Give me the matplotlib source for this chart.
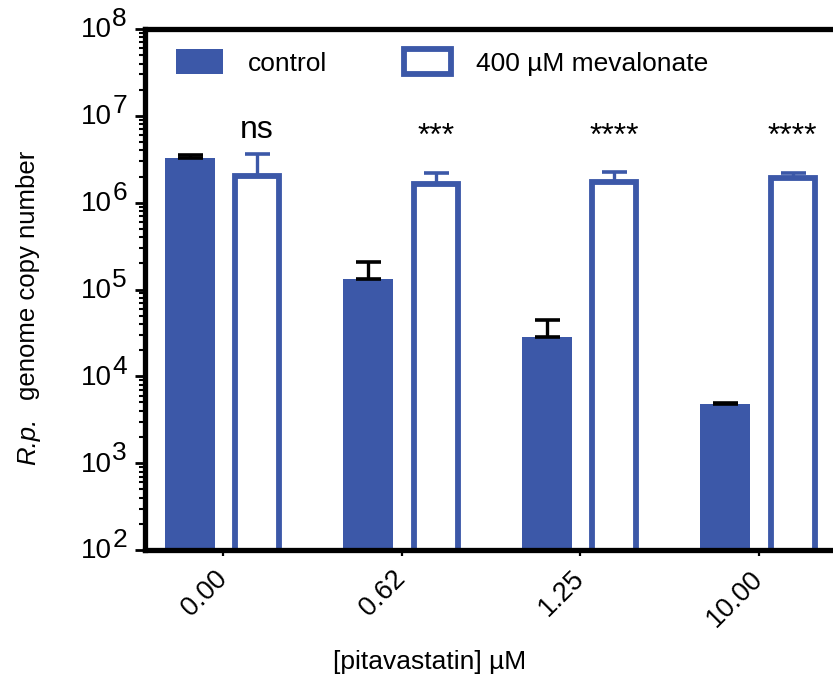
import matplotlib
matplotlib.use("Agg")
import matplotlib.pyplot as plt
import numpy as np

plt.rcParams['font.family'] = ['Liberation Sans', 'DejaVu Sans']

# ---- data ----
categories = ["0.00", "0.62", "1.25", "10.00"]
control = [3.27e6, 1.32e5, 2.83e4, 4.8e3]
control_upper = [3.55e6, 2.1e5, 4.4e4, 4.95e3]
mevalonate = [2.04e6, 1.64e6, 1.71e6, 1.94e6]
mevalonate_upper = [3.6e6, 2.17e6, 2.27e6, 2.2e6]
significance = ["ns", "***", "****", "****"]
series_names = ["control", "400 µM mevalonate"]
decades = [2, 3, 4, 5, 6, 7, 8]

blue = "#3C58A8"
W, H = 833, 679
fig = plt.figure(figsize=(W / 100, H / 100), dpi=100)
ax_left, ax_right, ax_top, ax_bottom = 145, 848, 29, 550
ax = fig.add_axes([ax_left / W, 1 - ax_bottom / H, (ax_right - ax_left) / W, (ax_bottom - ax_top) / H])

x = np.arange(len(categories))
w_c, w_m = 0.28, 0.246
off_c, off_m = -0.187, 0.19

ctrl_err = [np.zeros(len(control)), np.array(control_upper) - np.array(control)]
mev_err = [np.zeros(len(mevalonate)), np.array(mevalonate_upper) - np.array(mevalonate)]

ax.bar(x + off_c, control, width=w_c, color=blue, edgecolor='none', label=series_names[0], zorder=2)
eb1 = ax.errorbar(x + off_c, control, yerr=ctrl_err, fmt='none', ecolor='black', elinewidth=2.4,
                  capsize=9, capthick=2.6, zorder=3)
ax.bar(x + off_m, mevalonate, width=w_m, color='white', edgecolor=blue, linewidth=4.2,
       label=series_names[1], zorder=2)
eb2 = ax.errorbar(x + off_m, mevalonate, yerr=mev_err, fmt='none', ecolor=blue, elinewidth=2.4,
                  capsize=9, capthick=2.6, zorder=1)
for eb in (eb1, eb2):
    for cap in eb[1]:
        cap.set_solid_capstyle('round')

ax.set_yscale('log')
ax.set_ylim(1e2, 1e8)
ax.set_xlim(-0.438, 3.5)

for s in ['top', 'left', 'bottom', 'right']:
    ax.spines[s].set_linewidth(3.8)
ax.spines['right'].set_visible(False)

ax.set_xticks(x)
ax.set_xticklabels(categories, rotation=45, ha='right', va='center', rotation_mode='anchor', fontsize=19.5)
ax.tick_params(axis='x', direction='out', length=4, width=1.6, pad=14)
ax.set_yticks([10.0 ** d for d in decades])
ax.set_yticklabels([])
ax.yaxis.set_minor_locator(matplotlib.ticker.LogLocator(base=10, subs=np.arange(2, 10)))
ax.yaxis.set_minor_formatter(matplotlib.ticker.NullFormatter())
ax.tick_params(axis='y', which='major', direction='out', length=7, width=2)
ax.tick_params(axis='y', which='minor', direction='out', length=4, width=1.5)

for d in decades:
    ax.annotate("10", xy=(0, 10.0 ** d), xycoords=('axes fraction', 'data'), xytext=(-24, -1),
                textcoords='offset points', ha='right', va='center', fontsize=20)
    ax.annotate(str(d), xy=(0, 10.0 ** d), xycoords=('axes fraction', 'data'), xytext=(-23.5, 7),
                textcoords='offset points', ha='left', va='center', fontsize=19)

for i, s in enumerate(significance):
    ypos = 0.806 if s == 'ns' else 0.793
    ax.text(x[i] + off_m, ypos, s, transform=ax.get_xaxis_transform(), ha='center', va='center',
            fontsize=23)

# y-axis label: italic "R.p." followed by regular text
rp = fig.text(35 / W, 1 - 465 / H, "R.p.", rotation=90, rotation_mode='anchor', ha='left',
              va='baseline', fontsize=18.5, style='italic')
ax.annotate("genome copy number", xy=(35, 1.0), xycoords=('figure pixels', rp), xytext=(0, 13),
            textcoords='offset points', rotation=90, rotation_mode='anchor', ha='left',
            va='baseline', fontsize=18.5, annotation_clip=False)

ax.set_xlabel("[pitavastatin] µM", fontsize=19)
ax.xaxis.set_label_coords(0.405, -0.192)

ax.legend(loc='upper left', ncol=2, frameon=False, fontsize=19, handlelength=1.78, handleheight=1.1,
          columnspacing=2.9, handletextpad=0.95, borderpad=0, borderaxespad=0,
          bbox_to_anchor=((176 - ax_left) / (ax_right - ax_left), (ax_bottom - 49) / (ax_bottom - ax_top)))

fig.savefig("out.png", dpi=100)
